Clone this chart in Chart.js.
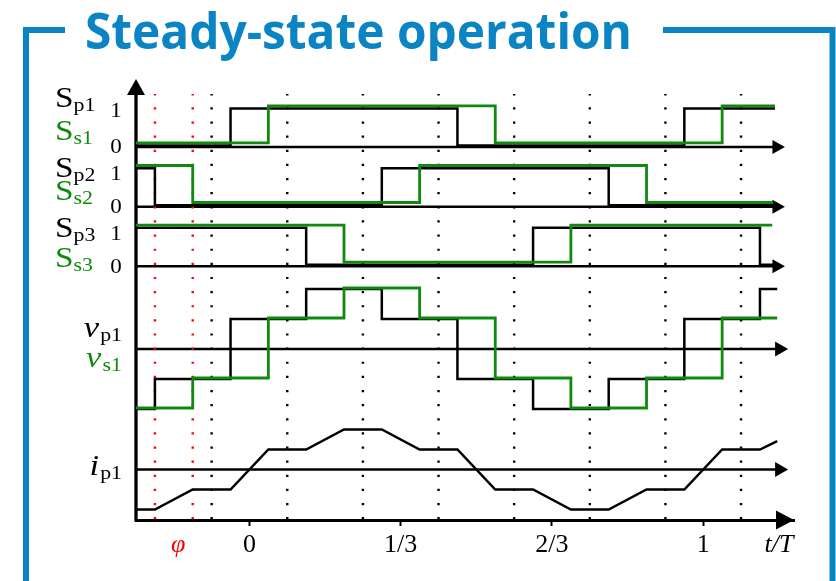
<!DOCTYPE html>
<html>
<head>
<meta charset="utf-8">
<title>Steady-state operation</title>
<script src="https://cdn.jsdelivr.net/npm/chart.js@4.4.1/dist/chart.umd.min.js"></script>
<style>
  html, body { margin: 0; padding: 0; background: #ffffff; }
  canvas { display: block; }
</style>
</head>
<body>
<canvas id="wave" width="836" height="581"></canvas>
<script>
// ---- Time axis (t/T) ----
const tickValues = [-0.157, 0, 1/3, 2/3, 1, 1.167];
const tickLabels = ['φ', '0', '1/3', '2/3', '1', 't/T'];

// Dotted guide lines: phase shift phi (red) and sixth-period marks (black)
const phiMarks = [-5/24, -3/24];
const sixthMarks = [-1/12, 1/12, 3/12, 5/12, 7/12, 9/12, 11/12, 13/12];

// ---- Gate signals: [t/T, state] at each switching instant ----
const sp1 = [[-0.25, 0], [-1/24, 1], [11/24, 0], [23/24, 1], [1.158, 1]];
const ss1 = [[-0.25, 0], [1/24, 1], [13/24, 0], [25/24, 1], [1.158, 1]];
const sp2 = [[-0.25, 1], [-5/24, 0], [7/24, 1], [19/24, 0], [1.155, 0]];
const ss2 = [[-0.25, 1], [-3/24, 0], [9/24, 1], [21/24, 0], [1.153, 0]];
const sp3 = [[-0.25, 1], [3/24, 0], [15/24, 1], [27/24, 0], [1.155, 0]];
const ss3 = [[-0.25, 1], [5/24, 0], [17/24, 1], [1.152, 1]];

// ---- Phase voltages (steps of Vdc/3) ----
const vp1 = [[-0.25, -2], [-5/24, -1], [-1/24, 1], [3/24, 2], [7/24, 1], [11/24, -1],
             [15/24, -2], [19/24, -1], [23/24, 1], [27/24, 2], [1.163, 2]];
const vs1 = [[-0.25, -2], [-3/24, -1], [1/24, 1], [5/24, 2], [9/24, 1], [13/24, -1],
             [17/24, -2], [21/24, -1], [25/24, 1], [1.163, 1]];

// ---- Primary current (piecewise linear) ----
const ip1 = [[-0.25, -2], [-5/24, -2], [-3/24, -1], [-1/24, -1], [1/24, 1], [3/24, 1],
             [5/24, 2], [7/24, 2], [9/24, 1], [11/24, 1], [13/24, -1], [15/24, -1],
             [17/24, -2], [19/24, -2], [21/24, -1], [23/24, -1], [25/24, 1], [27/24, 1],
             [1.163, 1.42]];

// ---- Layout of the stacked traces on the shared vertical scale ----
const BLACK = '#000000';
const GREEN = '#0f8a0f';
const RED = '#ff0000';
const BLUE = '#0a84c3';
const ROWS = {
  s1: { base: 37.3,  gain: 3.7 },
  s2: { base: 31.33, gain: 3.7 },
  s3: { base: 25.37, gain: 3.7 },
  v:  { base: 17.1,  gain: 3.0 },
  i:  { base: 5.05,  gain: 2.0 }
};
const Y_MAX = 44.1;
const GUIDE_TOP = 42.6;
const GUIDE_BOTTOM = 0.07;
const TEXT_STRETCH = 1.15;
const SERIF = '"Liberation Serif", "Times New Roman", serif';

function trace(points, row, lift, color, width, stepped, order) {
  return {
    data: points.map(([t, v]) => ({ x: t, y: row.base + lift + row.gain * v })),
    borderColor: color,
    borderWidth: width,
    stepped: stepped,
    tension: 0,
    pointRadius: 0,
    fill: false,
    borderJoinStyle: 'miter',
    borderCapStyle: 'butt',
    order: order
  };
}

function guide(t, color) {
  return {
    data: [{ x: t, y: GUIDE_BOTTOM }, { x: t, y: GUIDE_TOP }],
    borderColor: color,
    borderWidth: 2.4,
    borderDash: [2.2, 11.93],
    borderCapStyle: 'butt',
    pointRadius: 0,
    fill: false,
    order: 10
  };
}

const datasets = [
  ...phiMarks.map(t => guide(t, RED)),
  ...sixthMarks.map(t => guide(t, BLACK)),
  trace(sp1, ROWS.s1, 0.15, BLACK, 2.5, true, 3),
  trace(sp2, ROWS.s2, 0.15, BLACK, 2.5, true, 3),
  trace(sp3, ROWS.s3, 0.15, BLACK, 2.5, true, 3),
  trace(ss1, ROWS.s1, 0.42, GREEN, 2.8, true, 2),
  trace(ss2, ROWS.s2, 0.42, GREEN, 2.8, true, 2),
  trace(ss3, ROWS.s3, 0.42, GREEN, 2.8, true, 2),
  trace(vp1, ROWS.v, 0, BLACK, 2.5, true, 3),
  trace(vs1, ROWS.v, 0.1, GREEN, 2.8, true, 2),
  trace(ip1, ROWS.i, 0, BLACK, 2.5, false, 3)
];

// Row labels (offsets in px from each row's axis line)
const leftLabels = [
  { row: 's1', dy: -40, main: 'S', sub: 'p1', color: BLACK },
  { row: 's1', dy: -7,  main: 'S', sub: 's1', color: GREEN },
  { row: 's2', dy: -30, main: 'S', sub: 'p2', color: BLACK },
  { row: 's2', dy: -7,  main: 'S', sub: 's2', color: GREEN },
  { row: 's3', dy: -29, main: 'S', sub: 'p3', color: BLACK },
  { row: 's3', dy: 0.5, main: 'S', sub: 's3', color: GREEN }
];
const levelLabels = [
  { row: 's1', dy: -35, text: '1' }, { row: 's1', dy: 1, text: '0' },
  { row: 's2', dy: -32, text: '1' }, { row: 's2', dy: 1, text: '0' },
  { row: 's3', dy: -32, text: '1' }, { row: 's3', dy: 1, text: '0' }
];
const signalLabels = [
  { row: 'v', dy: -12,  main: 'v', sub: 'p1', color: BLACK },
  { row: 'v', dy: 18,   main: 'v', sub: 's1', color: GREEN },
  { row: 'i', dy: 5.5,  main: 'i', sub: 'p1', color: BLACK }
];

function subLabel(ctx, x, y, main, sub, color, italic, size, subSize, align) {
  const mf = (italic ? 'italic ' : '') + size + 'px ' + SERIF;
  const sf = subSize + 'px ' + SERIF;
  ctx.save();
  ctx.font = mf;
  const mw = ctx.measureText(main).width;
  ctx.font = sf;
  const sw = ctx.measureText(sub).width;
  const total = (mw + sw + (italic ? 1 : 0)) * TEXT_STRETCH;
  const x0 = align === 'right' ? x - total : x;
  ctx.translate(x0, 0);
  ctx.scale(TEXT_STRETCH, 1);
  ctx.fillStyle = color;
  ctx.textAlign = 'left';
  ctx.textBaseline = 'alphabetic';
  ctx.font = mf;
  ctx.fillText(main, 0, y);
  ctx.font = sf;
  ctx.fillText(sub, mw + (italic ? 1 : 0), y + 4);
  ctx.restore();
}

function arrowRight(ctx, tipX, y, len, half) {
  ctx.beginPath();
  ctx.moveTo(tipX, y);
  ctx.lineTo(tipX - len, y - half);
  ctx.lineTo(tipX - len, y + half);
  ctx.closePath();
  ctx.fill();
}

const figureDecor = {
  id: 'figureDecor',
  beforeDraw(chart) {
    const ctx = chart.ctx;
    ctx.save();
    // Frame around the figure
    ctx.strokeStyle = BLUE;
    ctx.lineWidth = 6;
    ctx.lineCap = 'butt';
    ctx.beginPath();
    ctx.moveTo(26, 581); ctx.lineTo(26, 27); ctx.moveTo(23, 30); ctx.lineTo(65, 30);
    ctx.moveTo(663, 30); ctx.lineTo(835.5, 30);
    ctx.moveTo(832.5, 27); ctx.lineTo(832.5, 581);
    ctx.stroke();
    // Heading
    const title = 'Steady-state operation';
    ctx.font = 'bold 50px "Open Sans", sans-serif';
    const w = ctx.measureText(title).width;
    ctx.translate(85, 49);
    ctx.scale(547 / w, 1);
    ctx.fillStyle = BLUE;
    ctx.textBaseline = 'alphabetic';
    ctx.fillText(title, 0, 0);
    ctx.restore();
  },
  beforeDatasetsDraw(chart) {
    const ctx = chart.ctx;
    const xs = chart.scales.x, ys = chart.scales.y;
    const x0 = xs.getPixelForValue(-0.25);
    ctx.save();
    ctx.strokeStyle = BLACK;
    ctx.fillStyle = BLACK;
    // Row axes with arrowheads
    const rowAxes = [['s1', 1.18, 12.5, 7], ['s2', 1.18, 12.5, 7], ['s3', 1.18, 12.5, 7],
                     ['v', 1.187, 13, 7.5], ['i', 1.187, 13, 7.5]];
    rowAxes.forEach(([key, end, len, half]) => {
      const y = ys.getPixelForValue(ROWS[key].base);
      const tip = xs.getPixelForValue(end);
      ctx.lineWidth = 2.5;
      ctx.beginPath();
      ctx.moveTo(x0, y);
      ctx.lineTo(tip - len + 1, y);
      ctx.stroke();
      arrowRight(ctx, tip, y, len, half);
    });
    // Vertical axis
    const yTop = ys.getPixelForValue(Y_MAX);
    const yBot = ys.getPixelForValue(0);
    ctx.lineWidth = 3.3;
    ctx.beginPath();
    ctx.moveTo(x0, yBot + 1.5);
    ctx.lineTo(x0, yTop + 14);
    ctx.stroke();
    ctx.beginPath();
    ctx.moveTo(x0, yTop);
    ctx.lineTo(x0 - 9, yTop + 16);
    ctx.lineTo(x0 + 9, yTop + 16);
    ctx.closePath();
    ctx.fill();
    ctx.restore();
  },
  afterDraw(chart) {
    const ctx = chart.ctx;
    const xs = chart.scales.x, ys = chart.scales.y;
    ctx.save();
    ctx.fillStyle = BLACK;
    // Time-axis arrowhead
    arrowRight(ctx, xs.getPixelForValue(1.2), ys.getPixelForValue(0), 18, 9.5);
    // Gate-signal names
    leftLabels.forEach(l => {
      const y = ys.getPixelForValue(ROWS[l.row].base) + l.dy;
      subLabel(ctx, 55, y, l.main, l.sub, l.color, false, 29, 19, 'left');
    });
    // Logic levels
    ctx.font = '20px ' + SERIF;
    ctx.textAlign = 'center';
    ctx.textBaseline = 'middle';
    levelLabels.forEach(l => {
      const y = ys.getPixelForValue(ROWS[l.row].base) + l.dy;
      ctx.save();
      ctx.translate(116, y);
      ctx.scale(TEXT_STRETCH, 1);
      ctx.fillText(l.text, 0, 0);
      ctx.restore();
    });
    // Voltage / current names
    signalLabels.forEach(l => {
      const y = ys.getPixelForValue(ROWS[l.row].base) + l.dy;
      subLabel(ctx, 122, y, l.main, l.sub, l.color, true, 30, 19, 'right');
    });
    ctx.restore();
  }
};

new Chart(document.getElementById('wave'), {
  type: 'line',
  data: { datasets },
  options: {
    responsive: false,
    animation: false,
    events: [],
    layout: { padding: { left: 136, right: 42, top: 79, bottom: 0 } },
    plugins: { legend: { display: false }, tooltip: { enabled: false }, title: { display: false } },
    scales: {
      x: {
        type: 'linear',
        min: -0.25,
        max: 1.2,
        afterBuildTicks: s => { s.ticks = tickValues.map(v => ({ value: v })); },
        afterFit: s => { s.height = 61; },
        border: { display: true, color: BLACK, width: 3 },
        grid: {
          display: true,
          drawOnChartArea: false,
          drawTicks: true,
          tickLength: 6,
          tickWidth: 2,
          tickColor: c => (c.index === 0 || c.index === tickValues.length - 1) ? 'rgba(0,0,0,0)' : BLACK
        },
        ticks: {
          autoSkip: false,
          maxRotation: 0,
          minRotation: 0,
          padding: 4,
          color: c => c.index === 0 ? RED : BLACK,
          font: c => ({
            family: SERIF,
            size: 26,
            style: (c.index === 0 || c.index === tickValues.length - 1) ? 'italic' : 'normal'
          }),
          callback: (v, i) => tickLabels[i]
        }
      },
      y: { type: 'linear', display: false, min: 0, max: Y_MAX }
    }
  },
  plugins: [figureDecor]
});
</script>
</body>
</html>
